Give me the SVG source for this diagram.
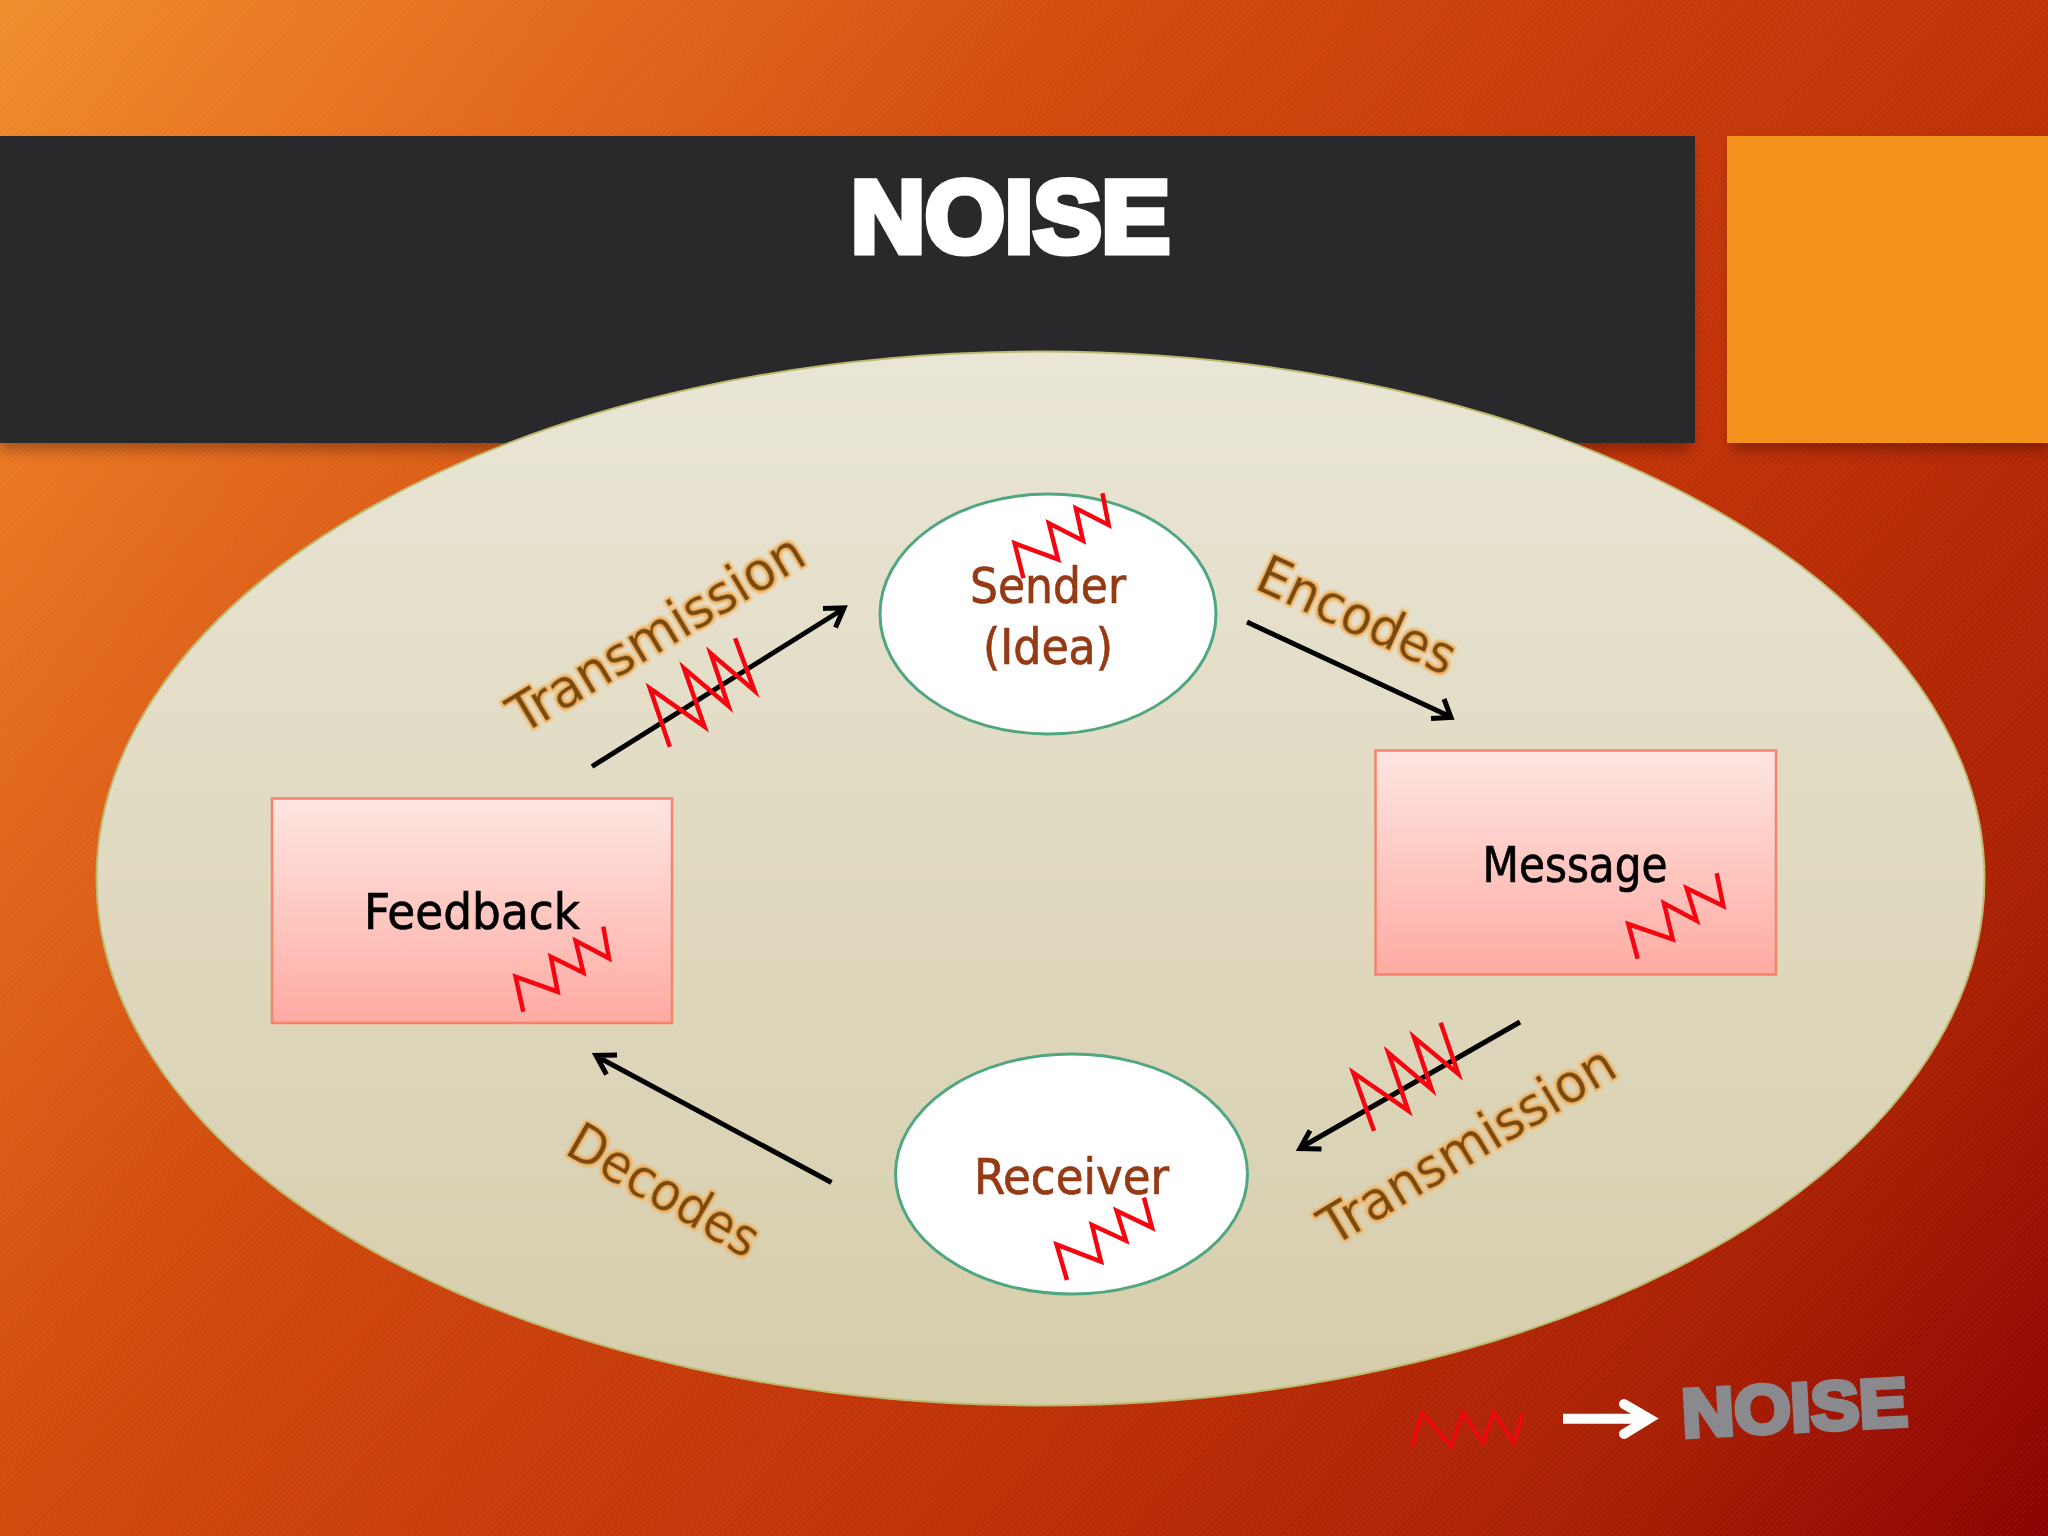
<svg xmlns="http://www.w3.org/2000/svg" width="2048" height="1536" viewBox="0 0 2048 1536">
<style>
.t{font-family:"DejaVu Sans Condensed","DejaVu Sans",sans-serif;font-stretch:condensed;font-size:50px;stroke-width:.7px}
.dark{fill:#953a14;stroke:#953a14}
.blk{fill:#000;stroke:#000}
.lab{font-family:"DejaVu Sans Condensed","DejaVu Sans",sans-serif;font-stretch:condensed;font-size:53px;fill:#7a4a0c;filter:url(#glow)}
.z{fill:none;stroke:#f5050f;stroke-width:4.5;stroke-linejoin:miter}
.a{fill:none;stroke:#000;stroke-width:5}
.blob{fill:#fff;stroke:#4fa67f;stroke-width:3}
.box{fill:url(#boxG);stroke:#f4836a;stroke-width:2.5}
.hv{font-family:"Liberation Sans",Arial,sans-serif;font-weight:700;stroke-linejoin:miter}
</style>
<defs>
<linearGradient id="bg" gradientUnits="userSpaceOnUse" x1="0" y1="0" x2="2048" y2="1536">
<stop offset="0" stop-color="#ef8c2c"/><stop offset=".15" stop-color="#e66e1e"/><stop offset=".36" stop-color="#d0480b"/><stop offset=".64" stop-color="#bf3006"/><stop offset=".85" stop-color="#a81e02"/><stop offset="1" stop-color="#8a0000"/>
</linearGradient>
<pattern id="st" width="4" height="4" patternUnits="userSpaceOnUse" patternTransform="rotate(-45)">
<rect width="4" height="1.2" fill="#fff" opacity=".05"/>
</pattern>
<linearGradient id="elG" x1="0" y1="0" x2="0" y2="1"><stop offset="0" stop-color="#eae6d6"/><stop offset="1" stop-color="#d6cdab"/></linearGradient>
<linearGradient id="boxG" x1="0" y1="0" x2="0" y2="1"><stop offset="0" stop-color="#ffe6e2"/><stop offset="1" stop-color="#feaba3"/></linearGradient>
<filter id="sh" x="-5%" y="-10%" width="110%" height="125%"><feGaussianBlur stdDeviation="7"/></filter>
<filter id="glow" x="-10%" y="-30%" width="120%" height="160%">
<feMorphology in="SourceAlpha" operator="dilate" radius="1.6" result="d"/>
<feGaussianBlur in="d" stdDeviation="1" result="b"/>
<feFlood flood-color="#f2b15e"/>
<feComposite in2="b" operator="in" result="g"/>
<feMerge><feMergeNode in="g"/><feMergeNode in="SourceGraphic"/></feMerge>
</filter>
</defs>
<rect width="2048" height="1536" fill="url(#bg)"/>
<rect width="2048" height="1536" fill="url(#st)"/>
<g id="header">
<rect x="0" y="146" width="1690" height="304" fill="#000" opacity=".3" filter="url(#sh)"/>
<rect x="1733" y="146" width="315" height="304" fill="#000" opacity=".3" filter="url(#sh)"/>
<rect x="0" y="136" width="1695" height="307" fill="#29292b"/>
<rect x="1727" y="136" width="321" height="307" fill="#f3931c"/>
<text x="851" y="251.500" class="hv" font-size="102" fill="#fff" stroke="#fff" stroke-width="7" textLength="319" lengthAdjust="spacingAndGlyphs">NOISE</text>
</g>
<ellipse id="field" cx="1040.500" cy="878.500" rx="944" ry="527" fill="url(#elG)" stroke="#bdb96f" stroke-width="2"/>
<g id="connectors">
<path class="a" d="M592 766.500L844 608.500M823 608.500L844 607.800L835.500 627.500"/>
<path class="a" d="M1247 622L1451 717M1431 718.500L1451 717.500L1444 699"/>
<path class="a" d="M1520 1022L1300 1148M1310 1130.500L1300 1148.500L1321.500 1149"/>
<path class="a" d="M831.500 1182.500L596 1056M617 1055L596 1055.500L606.500 1074.500"/>
</g>
<g id="sender">
<ellipse class="blob" cx="1048" cy="614" rx="168" ry="120"/>
<text class="t dark" x="1048" y="603" text-anchor="middle" textLength="156" lengthAdjust="spacingAndGlyphs">Sender</text>
<text class="t dark" x="1048" y="664" text-anchor="middle" textLength="130" lengthAdjust="spacingAndGlyphs">(Idea)</text>
<polyline class="z" points="1023.400,578.300 1014.700,543.300 1058,559.300 1048.900,523.300 1083,540.700 1075.900,508.300 1108.600,525 1102.400,493.300"/>
</g>
<g id="message">
<rect class="box" x="1375.500" y="750.500" width="400.500" height="224"/>
<text class="t blk" x="1575" y="882" text-anchor="middle" textLength="185" lengthAdjust="spacingAndGlyphs">Message</text>
<polyline class="z" points="1637.700,958.700 1628.300,924 1672.700,939.300 1664,903.300 1696.700,920.700 1686.700,888.300 1723.300,906 1716.700,873.300"/>
</g>
<g id="receiver">
<ellipse class="blob" cx="1071.500" cy="1174" rx="176" ry="120"/>
<text class="t dark" x="1071.500" y="1194" text-anchor="middle" textLength="195" lengthAdjust="spacingAndGlyphs">Receiver</text>
<polyline class="z" points="1067,1280 1056.600,1244.600 1101,1261.600 1092,1225 1126,1240.700 1116.600,1210.700 1152,1227.600 1144,1197.600"/>
</g>
<g id="feedback">
<rect class="box" x="272" y="798.500" width="400" height="224.500"/>
<text class="t blk" x="472" y="929" text-anchor="middle" textLength="216" lengthAdjust="spacingAndGlyphs">Feedback</text>
<polyline class="z" points="523.300,1011.700 515.600,976.700 557.700,991.700 550.900,956.700 583.400,972.700 575.700,940.700 609,958.300 603.300,926.700"/>
</g>
<g id="noise-marks">
<polyline class="z" points="669.800,746.700 649.900,688.300 704.500,726.700 684,668.300 728.500,706 710.600,653.300 754.500,690.700 735.100,638.300"/>
<polyline class="z" points="1374,1130.700 1353.300,1072.700 1408.300,1110.700 1388.300,1052.700 1431.700,1089.300 1414,1037.300 1458.300,1074 1440.700,1022.700"/>
</g>
<g id="labels">
<text class="lab" transform="translate(522 735) rotate(-31)" textLength="335" lengthAdjust="spacingAndGlyphs">Transmission</text>
<text class="lab" transform="translate(1333 1247) rotate(-31)" textLength="335" lengthAdjust="spacingAndGlyphs">Transmission</text>
<text class="lab" transform="translate(1253 588) rotate(24.500)" textLength="212" lengthAdjust="spacingAndGlyphs">Encodes</text>
<text class="lab" transform="translate(563 1153) rotate(30)" textLength="212" lengthAdjust="spacingAndGlyphs">Decodes</text>
</g>
<g id="legend">
<polyline class="z" style="stroke-width:3.500" points="1412,1446.700 1422,1412.700 1451.400,1446.700 1462.900,1412.700 1482.900,1442.700 1493.600,1412.700 1514,1442.700 1522.900,1412.700"/>
<path d="M1563 1418.700H1648" fill="none" stroke="#fff" stroke-width="10"/>
<polyline points="1624,1404 1649,1418.700 1624,1434" fill="none" stroke="#fff" stroke-width="10" stroke-linecap="round" stroke-linejoin="miter"/>
<text class="hv" transform="translate(1683 1437) rotate(-3)" font-size="68" fill="#8a8a8e" stroke="#8a8a8e" stroke-width="5" textLength="226" lengthAdjust="spacingAndGlyphs">NOISE</text>
</g>
</svg>
